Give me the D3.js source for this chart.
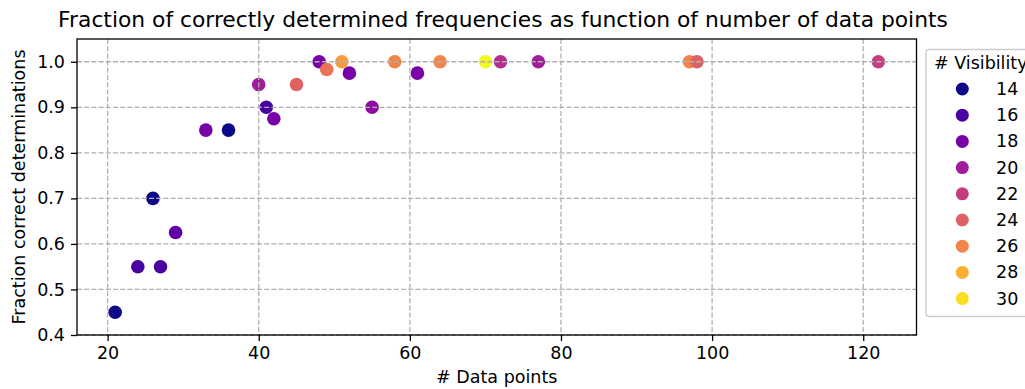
<!DOCTYPE html>
<html>
<head>
<meta charset="utf-8">
<script src="https://cdn.jsdelivr.net/npm/d3@7"></script>
<style>
  html, body { margin: 0; padding: 0; background: #ffffff; }
  svg { display: block; font-family: "DejaVu Sans", sans-serif; }
</style>
</head>
<body>
<svg id="chart" width="1025" height="389"></svg>
<script>
// Number of data points per run
const dataPoints = [21, 24, 26, 27, 29, 33, 36, 40, 41, 42, 45, 48, 49, 51, 52, 55, 58, 61, 64, 70, 72, 77, 97, 98, 122];
// Fraction of frequencies determined correctly
const fractionCorrect = [0.45, 0.55, 0.70, 0.55, 0.625, 0.85, 0.85, 0.95, 0.90, 0.875, 0.95, 1.0, 0.983, 1.0, 0.975, 0.90, 1.0, 0.975, 1.0, 1.0, 1.0, 1.0, 1.0, 1.0, 1.0];
// Number of visibilities used in each run
const visibilities = [14, 16, 14, 16, 17, 18, 14, 20, 16, 18, 24, 18, 25, 27, 18, 19, 26, 18, 26, 31, 21, 20, 26, 24, 22];

const xTicks = [20, 40, 60, 80, 100, 120];
const yTicks = [0.4, 0.5, 0.6, 0.7, 0.8, 0.9, 1.0];
const legendLevels = [14, 16, 18, 20, 22, 24, 26, 28, 30];

const titleText = "Fraction of correctly determined frequencies as function of number of data points";
const xLabel = "# Data points";
const yLabel = "Fraction correct determinations";
const legendTitle = "# Visibility";

const svg = d3.select("#chart");
const plot = { left: 77, right: 916.5, top: 39, bottom: 335 };
const fontSmall = "17.5px";
const fontTitle = "21.8px";

const x = d3.scaleLinear().domain([15.95, 127.05]).range([plot.left, plot.right]);
const y = d3.scaleLinear().domain([0.4, 1.05]).range([plot.bottom, plot.top]);
const color = d3.scaleSequential(d3.interpolatePlasma).domain([14, 31]);

const points = dataPoints.map((d, i) => ({ x: d, y: fractionCorrect[i], v: visibilities[i] }));

// Scatter markers
svg.append("g")
  .selectAll("circle")
  .data(points)
  .join("circle")
  .attr("cx", d => x(d.x))
  .attr("cy", d => y(d.y))
  .attr("r", 6.8)
  .attr("fill", d => color(d.v));

// Dashed grid, drawn above the markers
const grid = svg.append("g")
  .attr("stroke", "#b0b0b0")
  .attr("stroke-width", 1.3)
  .attr("stroke-dasharray", "5,2.2");
grid.selectAll("line.gx").data(xTicks).join("line")
  .attr("x1", d => x(d)).attr("x2", d => x(d))
  .attr("y1", plot.top).attr("y2", plot.bottom);
grid.selectAll("line.gy").data(yTicks).join("line")
  .attr("x1", plot.left).attr("x2", plot.right)
  .attr("y1", d => y(d)).attr("y2", d => y(d));

// Axes
const xAxis = svg.append("g")
  .attr("transform", `translate(0,${plot.bottom})`)
  .call(d3.axisBottom(x).tickValues(xTicks).tickFormat(d3.format("d")).tickSize(6).tickPadding(6));
const yAxis = svg.append("g")
  .attr("transform", `translate(${plot.left},0)`)
  .call(d3.axisLeft(y).tickValues(yTicks).tickFormat(d3.format(".1f")).tickSize(6).tickPadding(6));
[xAxis, yAxis].forEach(a => {
  a.select(".domain").remove();
  a.selectAll(".tick line").attr("stroke", "#000").attr("stroke-width", 1.3);
  a.selectAll(".tick text")
    .attr("fill", "#000")
    .style("font-family", "DejaVu Sans, sans-serif")
    .style("font-size", fontSmall);
});

// Frame
svg.append("rect")
  .attr("x", plot.left).attr("y", plot.top)
  .attr("width", plot.right - plot.left).attr("height", plot.bottom - plot.top)
  .attr("fill", "none").attr("stroke", "#000").attr("stroke-width", 1.3);

// Title and axis labels
svg.append("text")
  .attr("x", 503).attr("y", 27)
  .attr("text-anchor", "middle")
  .style("font-size", fontTitle)
  .text(titleText);
svg.append("text")
  .attr("x", (plot.left + plot.right) / 2).attr("y", 383)
  .attr("text-anchor", "middle")
  .style("font-size", fontSmall)
  .text(xLabel);
svg.append("text")
  .attr("transform", `translate(25,${(plot.top + plot.bottom) / 2}) rotate(-90)`)
  .attr("text-anchor", "middle")
  .style("font-size", fontSmall)
  .text(yLabel);

// Legend
const legend = svg.append("g");
legend.append("rect")
  .attr("x", 926).attr("y", 49.5)
  .attr("width", 130).attr("height", 267)
  .attr("rx", 3).attr("ry", 3)
  .attr("fill", "#ffffff").attr("fill-opacity", 0.8)
  .attr("stroke", "#cccccc").attr("stroke-width", 1.3);
legend.append("text")
  .attr("x", 934).attr("y", 69)
  .style("font-size", fontSmall)
  .text(legendTitle);
const rows = legend.selectAll("g.row").data(legendLevels).join("g")
  .attr("transform", (d, i) => `translate(0,${89 + i * 26.2})`);
rows.append("circle")
  .attr("cx", 962.3).attr("cy", 0).attr("r", 6.5)
  .attr("fill", d => color(d));
rows.append("text")
  .attr("x", 996).attr("y", 6)
  .style("font-size", fontSmall)
  .text(d => d);
</script>
</body>
</html>
